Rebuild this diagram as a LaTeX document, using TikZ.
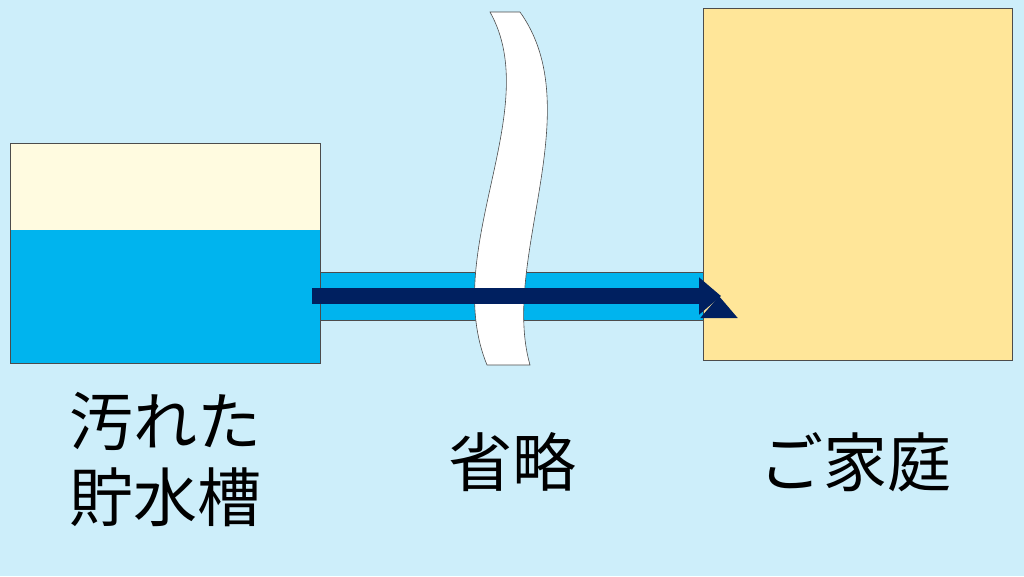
\documentclass[tikz,border=0pt]{standalone}
\usepackage{fontspec}
\newfontfamily\cjk{Noto Sans CJK JP}
\usetikzlibrary{arrows.meta}
\definecolor{bg}{HTML}{CDEEFA}
\definecolor{cream}{HTML}{FFFBE0}
\definecolor{water}{HTML}{00B4EE}
\definecolor{house}{HTML}{FFE699}
\definecolor{navy}{HTML}{002060}
\tikzset{lbl/.style={font=\cjk\fontsize{64}{76}\selectfont,align=center,text=black,inner sep=0pt},
 edge/.style={draw=black!70,line width=0.6pt}}
\begin{document}
\begin{tikzpicture}[x=1pt,y=-1pt]
\fill[bg] (0,0) rectangle (1024,576);
\useasboundingbox (0,0) rectangle (1024,576);
% pipe
\draw[edge,fill=water] (316,272) rectangle (705,320);
% tank
\fill[cream] (10,143) rectangle (320,230);
\fill[water] (10,230) rectangle (320,363);
\draw[edge] (10,143) rectangle (320,363);
% house
\node[edge,fill=house,minimum width=309,minimum height=352,anchor=north west,inner sep=0] (home) at (703,8) {};
% break mark
\draw[black!70,line width=0.6pt,fill=white] (490,12) .. controls (545,110) and (440,250) .. (487,365) -- (530,365) .. controls (500,260) and (590,110) .. (520,12) -- cycle;
% arrow
\coordinate (a0) at (312,296);
\draw[navy,line width=16pt,-{Triangle[length=22pt,width=36pt]}] (a0) -- (home.west|-a0) ++(16,0);
\draw[navy,line width=16pt,-{Triangle[length=22pt,width=36pt]}] (a0) -- (721,296);
% labels
\node[lbl] (t1) at (165,460) {汚れた\\貯水槽};
\node[lbl] (t2) at (512,462) {省略};
\node[lbl] (t3) at (855,462) {ご家庭};
\end{tikzpicture}
\end{document}
